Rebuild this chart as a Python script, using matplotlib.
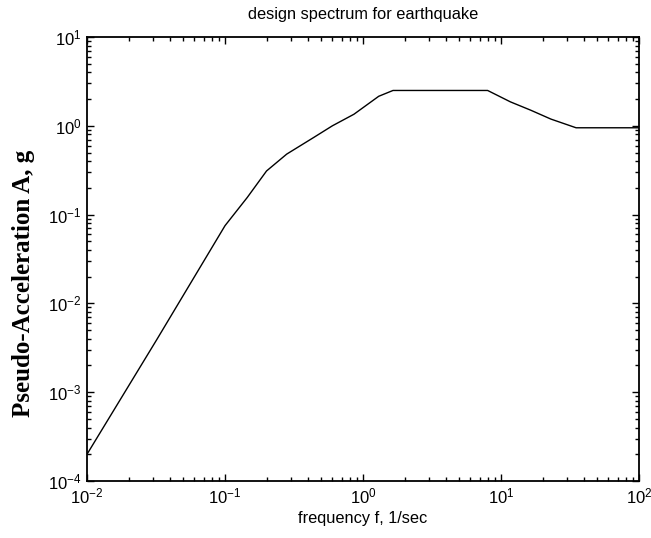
import matplotlib
matplotlib.use('Agg')
import matplotlib.pyplot as plt
from matplotlib.ticker import LogLocator

plt.rcParams['font.family'] = ['Liberation Sans', 'DejaVu Sans']
plt.rcParams['mathtext.default'] = 'regular'

# design spectrum, frequency in 1/sec and pseudo-acceleration in g
freq = [0.01, 0.032, 0.0785, 0.1, 0.145, 0.2, 0.28, 0.44,
        0.6, 0.86, 1.3, 1.65, 8.0, 11.7, 16.4, 23.0, 35.0, 100.0]
accel = [2.0e-4, 3.9e-3, 0.040, 0.075, 0.156, 0.31, 0.48, 0.74,
         1.0, 1.35, 2.15, 2.5, 2.5, 1.86, 1.5, 1.19, 0.95, 0.95]

fig = plt.figure(figsize=(6.51, 5.38), dpi=100)
ax = fig.add_axes([87/651, 1 - 481/538, (639 - 87)/651, (481 - 37)/538])

ax.loglog(freq, accel, color='black', linewidth=1.0)
ax.set_xlim(1e-2, 1e2)
ax.set_ylim(1e-4, 1e1)

ax.xaxis.set_major_locator(LogLocator(base=10, numticks=10))
ax.yaxis.set_major_locator(LogLocator(base=10, numticks=10))
ax.xaxis.set_minor_locator(LogLocator(base=10, subs=range(2, 10), numticks=20))
ax.yaxis.set_minor_locator(LogLocator(base=10, subs=range(2, 10), numticks=20))
ax.tick_params(which='both', direction='in', top=True, right=True, width=1.0)
ax.tick_params(which='major', length=5, labelsize=12, pad=4)
ax.tick_params(which='minor', length=3)
for s in ax.spines.values():
    s.set_linewidth(1.3)

ax.set_title('design spectrum for earthquake', fontsize=11.8, pad=13)
ax.set_xlabel('frequency f, 1/sec', fontsize=11.8, labelpad=3)
ax.set_ylabel('Pseudo-Acceleration A, g', fontsize=18, fontweight='bold',
              family=['Liberation Serif'], va='center')
ax.yaxis.set_label_coords(-0.115, 0.446)

fig.savefig('out.png', dpi=100)
